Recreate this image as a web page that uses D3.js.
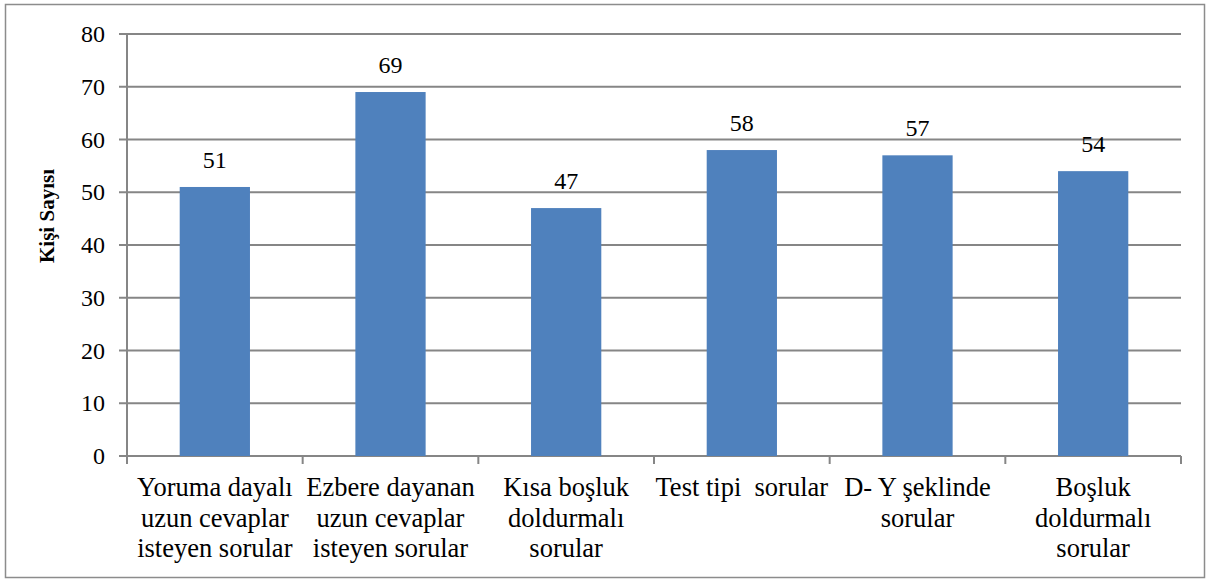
<!DOCTYPE html>
<html>
<head>
<meta charset="utf-8">
<script src="https://cdn.jsdelivr.net/npm/d3@7"></script>
<style>
  body { margin: 0; background: #fff; }
</style>
</head>
<body>
<script>
// kategoriler (satırlara bölünmüş), değerler
const categories = [
  ["Yoruma dayalı", "uzun cevaplar", "isteyen sorular"],
  ["Ezbere dayanan", "uzun cevaplar", "isteyen sorular"],
  ["Kısa boşluk", "doldurmalı", "sorular"],
  ["Test tipi  sorular"],
  ["D- Y şeklinde", "sorular"],
  ["Boşluk", "doldurmalı", "sorular"]
];
const values = [51, 69, 47, 58, 57, 54];
const yTicks = [0, 10, 20, 30, 40, 50, 60, 70, 80];
const yTitle = "Kişi Sayısı";

const width = 1209, height = 580;
const plotLeft = 127, plotRight = 1181, plotTop = 34, plotBottom = 456;
const serif = "'Liberation Serif'";

const svg = d3.select("body")
  .append("svg")
  .attr("width", width)
  .attr("height", height);

// dış çerçeve
svg.append("rect")
  .attr("x", 5.5).attr("y", 4.5)
  .attr("width", 1199).attr("height", 573)
  .attr("fill", "none")
  .attr("stroke", "#8c8c8c")
  .attr("stroke-width", 1.5);

const x = d3.scaleBand()
  .domain(d3.range(categories.length))
  .range([plotLeft, plotRight])
  .paddingInner(0.6)
  .paddingOuter(0.3);

const y = d3.scaleLinear()
  .domain([0, 80])
  .range([plotBottom, plotTop]);

// yatay ızgara çizgileri
svg.append("g")
  .selectAll("line")
  .data(yTicks)
  .enter()
  .append("line")
  .attr("x1", plotLeft - 8)
  .attr("x2", plotRight)
  .attr("y1", d => y(d))
  .attr("y2", d => y(d))
  .attr("stroke", "#868686")
  .attr("stroke-width", 2);

// y ekseni
svg.append("line")
  .attr("x1", plotLeft).attr("x2", plotLeft)
  .attr("y1", plotTop).attr("y2", plotBottom + 8)
  .attr("stroke", "#868686")
  .attr("stroke-width", 2);

// x ekseni bölme işaretleri
const edges = d3.range(categories.length + 1).map(i => plotLeft + i * x.step());
svg.append("g")
  .selectAll("line")
  .data(edges)
  .enter()
  .append("line")
  .attr("x1", d => d).attr("x2", d => d)
  .attr("y1", plotBottom).attr("y2", plotBottom + 8)
  .attr("stroke", "#868686")
  .attr("stroke-width", 2);

// y etiketleri
svg.append("g")
  .selectAll("text")
  .data(yTicks)
  .enter()
  .append("text")
  .attr("x", 105)
  .attr("y", d => y(d))
  .attr("dy", "0.34em")
  .attr("text-anchor", "end")
  .style("font-family", serif)
  .style("font-size", "24px")
  .text(d => d);

// çubuklar
svg.append("g")
  .selectAll("rect")
  .data(values)
  .enter()
  .append("rect")
  .attr("x", (d, i) => x(i))
  .attr("y", d => y(d))
  .attr("width", x.bandwidth())
  .attr("height", d => y(0) - y(d))
  .attr("fill", "#4f81bd");

// değer etiketleri
svg.append("g")
  .selectAll("text")
  .data(values)
  .enter()
  .append("text")
  .attr("x", (d, i) => x(i) + x.bandwidth() / 2)
  .attr("y", d => y(d) - 19)
  .attr("text-anchor", "middle")
  .style("font-family", serif)
  .style("font-size", "24px")
  .text(d => d);

// kategori etiketleri
const catG = svg.append("g")
  .selectAll("text")
  .data(categories)
  .enter()
  .append("text")
  .attr("text-anchor", "middle")
  .style("font-family", serif)
  .style("font-size", "26.5px")
  .style("white-space", "pre");

catG.selectAll("tspan")
  .data((d, i) => d.map(line => ({ line, i })))
  .enter()
  .append("tspan")
  .attr("x", d => x(d.i) + x.bandwidth() / 2)
  .attr("y", (d, j) => 496 + j * 30.5)
  .text(d => d.line);

// y ekseni başlığı
svg.append("text")
  .attr("transform", "translate(54,216) rotate(-90)")
  .attr("text-anchor", "middle")
  .style("font-family", serif)
  .style("font-size", "21px")
  .style("font-weight", "bold")
  .text(yTitle);
</script>
</body>
</html>
